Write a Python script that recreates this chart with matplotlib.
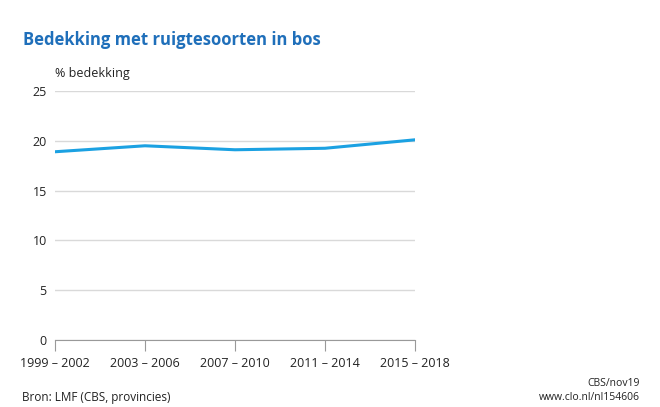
import matplotlib.pyplot as plt

periods = ['1999 – 2002', '2003 – 2006', '2007 – 2010', '2011 – 2014', '2015 – 2018']
bedekking = [18.9, 19.5, 19.1, 19.25, 20.1]
y_ticks = [0, 5, 10, 15, 20, 25]

plt.rcParams['font.family'] = ['Open Sans', 'DejaVu Sans']

fig = plt.figure(figsize=(6.6, 4.07), dpi=100)
ax = fig.add_axes([55 / 660, 1 - 340 / 407, 360 / 660, 249 / 407])

x = list(range(len(periods)))
ax.plot(x, bedekking, color='#1ba1e2', linewidth=2.2, solid_capstyle='round')

ax.set_xlim(0, len(periods) - 1)
ax.set_ylim(0, 25)
ax.set_yticks(y_ticks)
ax.set_yticklabels([str(t) for t in y_ticks], fontsize=9, color='#222222')
ax.set_xticks(x)
ax.set_xticklabels(periods, fontsize=9, color='#222222')

ax.grid(axis='y', color='#d9d9d9', linewidth=1)
ax.set_axisbelow(True)
for side in ['left', 'right', 'top']:
    ax.spines[side].set_visible(False)
ax.spines['bottom'].set_color('#999999')
ax.tick_params(axis='y', length=0, pad=6)
ax.tick_params(axis='x', length=8, color='#999999', pad=4)

fig.text(23 / 660, 1 - 40 / 407, 'Bedekking met ruigtesoorten in bos', fontsize=12,
         fontweight='bold', color='#1f6fba', va='center')
fig.text(55 / 660, 1 - 73 / 407, '% bedekking', fontsize=9, color='#222222', va='center')
fig.text(22 / 660, 1 - 397 / 407, 'Bron: LMF (CBS, provincies)', fontsize=8.5,
         color='#222222', va='center')
fig.text(640 / 660, 1 - 383 / 407, 'CBS/nov19', fontsize=7.5, color='#222222',
         va='center', ha='right')
fig.text(640 / 660, 1 - 397 / 407, 'www.clo.nl/nl154606', fontsize=7.5, color='#222222',
         va='center', ha='right')

fig.savefig('out.png', dpi=100)
